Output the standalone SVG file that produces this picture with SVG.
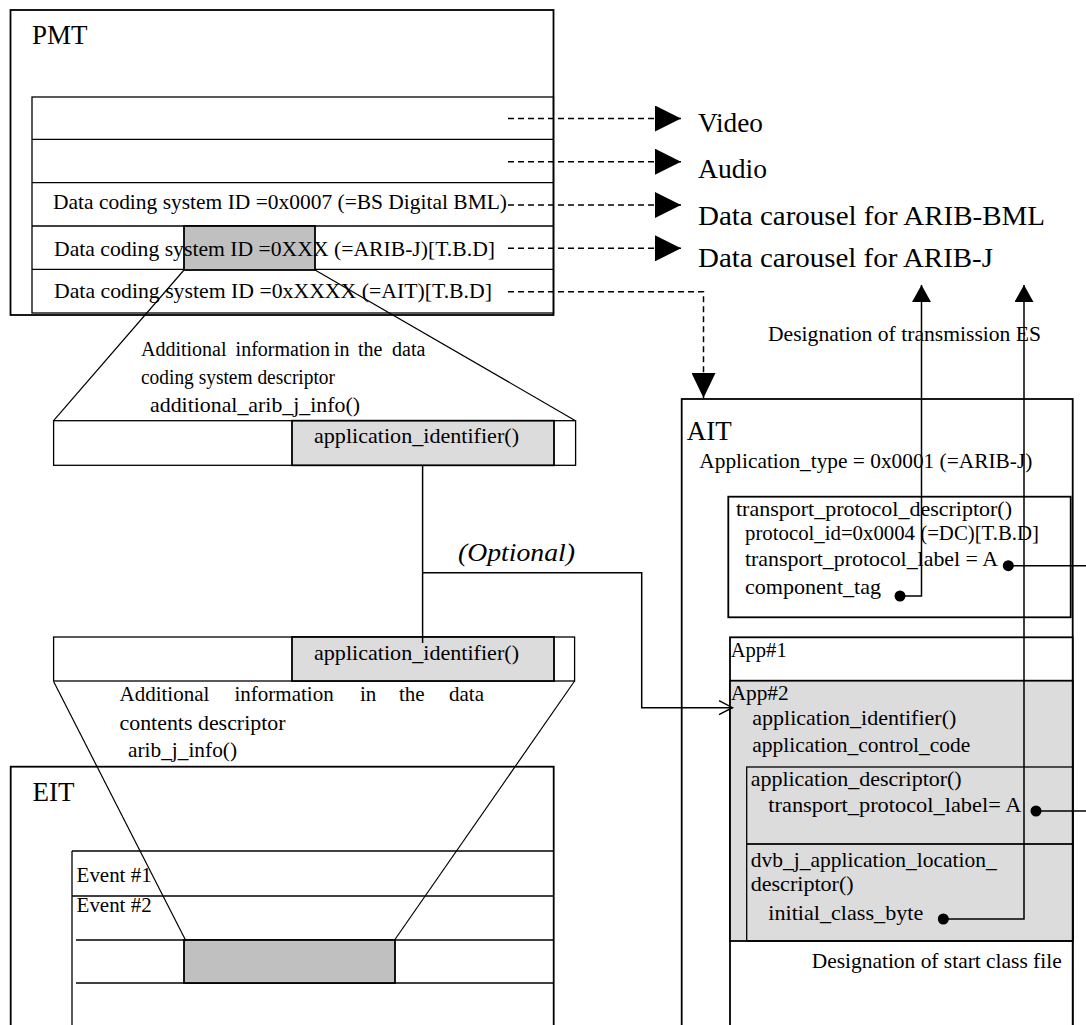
<svg xmlns="http://www.w3.org/2000/svg" width="1086" height="1025" viewBox="0 0 1086 1025">
<style>
.t{font-family:"Liberation Serif","Times New Roman",serif;font-size:21px;fill:#000}
.s20{font-size:20px}
.big{font-size:27px}
.it{font-style:italic;font-size:25px}
.box{fill:#fff;stroke:#000;stroke-width:1.8}
.in{fill:none;stroke:#000;stroke-width:1.3}
.gray{fill:#c0c0c0;stroke:#000;stroke-width:1.8}
.lgray{fill:#dcdcdc;stroke:#000;stroke-width:1.8}
.ln{fill:none;stroke:#000;stroke-width:1.5}
.thin{fill:none;stroke:#000;stroke-width:1.2}
.dash{fill:none;stroke:#000;stroke-width:1.5;stroke-dasharray:6 4}
.dot{fill:#000}
</style>
<defs>
<marker id="tri" markerUnits="userSpaceOnUse" markerWidth="26" markerHeight="26" viewBox="0 0 26 26" refX="26" refY="13" orient="auto"><path d="M0,0 L26,13 L0,26 z" fill="#000"/></marker>
<marker id="tri2" markerUnits="userSpaceOnUse" markerWidth="25" markerHeight="24" viewBox="0 0 25 24" refX="25" refY="12" orient="auto"><path d="M0,0 L25,12 L0,24 z" fill="#000"/></marker>
<marker id="triS" markerUnits="userSpaceOnUse" markerWidth="17" markerHeight="19" viewBox="0 0 17 19" refX="17" refY="9.5" orient="auto"><path d="M0,0 L17,9.5 L0,19 z" fill="#000"/></marker>
<marker id="open" markerUnits="userSpaceOnUse" markerWidth="16" markerHeight="16" viewBox="-1 -1 16 16" refX="13.5" refY="7" orient="auto"><path d="M0,0 L13.5,7 L0,14" fill="none" stroke="#000" stroke-width="1.5"/></marker>
</defs>

<g id="pmt">
<rect class="box" x="10.5" y="10" width="543" height="305"/>
<text class="t big" x="32" y="44">PMT</text>
<rect class="in" x="32" y="97" width="521.5" height="216"/>
<line class="in" x1="32" y1="139.3" x2="553.5" y2="139.3"/>
<line class="in" x1="32" y1="182.7" x2="553.5" y2="182.7"/>
<line class="in" x1="32" y1="226" x2="553.5" y2="226"/>
<line class="in" x1="32" y1="269.3" x2="553.5" y2="269.3"/>
<rect class="gray" x="184" y="226" width="131" height="44"/>
<text class="t" x="53" y="209" textLength="454" lengthAdjust="spacingAndGlyphs">Data coding system ID =0x0007 (=BS Digital BML)</text>
<text class="t" x="54" y="256" textLength="441" lengthAdjust="spacingAndGlyphs">Data coding system ID =0XXX (=ARIB-J)[T.B.D]</text>
<text class="t" x="54" y="298" textLength="438" lengthAdjust="spacingAndGlyphs">Data coding system ID =0xXXXX (=AIT)[T.B.D]</text>
</g>

<g id="labels-right">
<text class="t big" x="698" y="131.7" textLength="65" lengthAdjust="spacingAndGlyphs">Video</text>
<text class="t big" x="698" y="178" textLength="69" lengthAdjust="spacingAndGlyphs">Audio</text>
<text class="t big" x="698" y="225" textLength="347" lengthAdjust="spacingAndGlyphs">Data carousel for ARIB-BML</text>
<text class="t big" x="698" y="266.7" textLength="295" lengthAdjust="spacingAndGlyphs">Data carousel for ARIB-J</text>
<text class="t" x="768" y="340.7" textLength="273" lengthAdjust="spacingAndGlyphs">Designation of transmission ES</text>
</g>

<g id="dcs-descriptor">
<text class="t s20" y="355.7"><tspan x="141">Additional</tspan><tspan x="235.6">information</tspan><tspan x="334">in</tspan><tspan x="358">the</tspan><tspan x="392">data</tspan></text>
<text class="t s20" x="141" y="384" textLength="194" lengthAdjust="spacingAndGlyphs">coding system descriptor</text>
<text class="t" x="150" y="411.7" textLength="210" lengthAdjust="spacingAndGlyphs">additional_arib_j_info()</text>
<rect class="in" x="53.6" y="420.7" width="522" height="44.6"/>
<rect class="lgray" x="292" y="420.7" width="262" height="44.6"/>
<text class="t" x="314" y="443" textLength="205" lengthAdjust="spacingAndGlyphs">application_identifier()</text>
</g>

<g id="dc-descriptor">
<rect class="in" x="53.6" y="637" width="521" height="44"/>
<rect class="lgray" x="292" y="637" width="262" height="44"/>
<text class="t" x="314" y="660" textLength="205" lengthAdjust="spacingAndGlyphs">application_identifier()</text>
<text class="t" y="701"><tspan x="119.5">Additional</tspan><tspan x="234.5">information</tspan><tspan x="360">in</tspan><tspan x="399">the</tspan><tspan x="449">data</tspan></text>
<text class="t" x="119.5" y="730" textLength="166" lengthAdjust="spacingAndGlyphs">contents descriptor</text>
<text class="t" x="128" y="757" textLength="109" lengthAdjust="spacingAndGlyphs">arib_j_info()</text>
</g>

<g id="eit">
<rect class="box" x="10.7" y="766.7" width="543" height="300"/>
<text class="t big" x="32.5" y="801">EIT</text>
<line class="in" x1="72" y1="851" x2="72" y2="1030"/>
<line class="in" x1="72" y1="851" x2="553.7" y2="851"/>
<line class="in" x1="72" y1="896" x2="553.7" y2="896"/>
<line class="in" x1="76" y1="940" x2="553.7" y2="940"/>
<line class="in" x1="76" y1="983" x2="553.7" y2="983"/>
<rect class="gray" x="184" y="940" width="211" height="43" stroke-width="1.3"/>
<text class="t" x="76.6" y="881.7" textLength="75" lengthAdjust="spacingAndGlyphs">Event #1</text>
<text class="t" x="76.6" y="911.7" textLength="75" lengthAdjust="spacingAndGlyphs">Event #2</text>
</g>

<g id="ait">
<rect class="box" x="681.7" y="399" width="391" height="640"/>
<text class="t big" x="686.7" y="440" textLength="45" lengthAdjust="spacingAndGlyphs">AIT</text>
<text class="t" x="699.3" y="468.3" textLength="333" lengthAdjust="spacingAndGlyphs">Application_type = 0x0001 (=ARIB-J)</text>
<rect class="box" x="728.3" y="496.7" width="342.4" height="120.6" stroke-width="1.5"/>
<text class="t" x="736" y="515.7" textLength="276" lengthAdjust="spacingAndGlyphs">transport_protocol_descriptor()</text>
<text class="t" x="745" y="540" textLength="294" lengthAdjust="spacingAndGlyphs">protocol_id=0x0004 (=DC)[T.B.D]</text>
<text class="t" x="745" y="566" textLength="253" lengthAdjust="spacingAndGlyphs">transport_protocol_label = A</text>
<text class="t" x="745" y="594" textLength="136" lengthAdjust="spacingAndGlyphs">component_tag</text>
<rect class="box" x="730" y="637.3" width="342.7" height="400" stroke-width="1.5"/>
<rect class="lgray" x="730" y="680.7" width="342.7" height="260.3" fill="#dddddd"/>
<text class="t s20" x="730.7" y="656.7" textLength="56" lengthAdjust="spacingAndGlyphs">App#1</text>
<text class="t s20" x="730.7" y="700" textLength="58" lengthAdjust="spacingAndGlyphs">App#2</text>
<text class="t" x="752.3" y="725" textLength="204" lengthAdjust="spacingAndGlyphs">application_identifier()</text>
<text class="t" x="752.3" y="751.7" textLength="218" lengthAdjust="spacingAndGlyphs">application_control_code</text>
<rect class="in" x="746.7" y="767" width="326" height="77" stroke-width="1.6"/>
<text class="t" x="750.7" y="785.7" textLength="211" lengthAdjust="spacingAndGlyphs">application_descriptor()</text>
<text class="t" x="768.3" y="811.7" textLength="253" lengthAdjust="spacingAndGlyphs">transport_protocol_label= A</text>
<rect class="in" x="746.7" y="844" width="326" height="97" stroke-width="1.6"/>
<text class="t" x="750.7" y="866.7" textLength="246" lengthAdjust="spacingAndGlyphs">dvb_j_application_location_</text>
<text class="t" x="750.7" y="890.7" textLength="103" lengthAdjust="spacingAndGlyphs">descriptor()</text>
<text class="t" x="768.3" y="920" textLength="155" lengthAdjust="spacingAndGlyphs">initial_class_byte</text>
<text class="t" x="811.7" y="968.3" textLength="250" lengthAdjust="spacingAndGlyphs">Designation of start class file</text>
</g>

<g id="optional-label">
<text class="t it" x="458" y="560.5" textLength="117" lengthAdjust="spacingAndGlyphs">(Optional)</text>
</g>

<g id="connectors">
<line class="dash" x1="508" y1="118.5" x2="681" y2="118.5" marker-end="url(#tri)"/>
<line class="dash" x1="508" y1="161.7" x2="681" y2="161.7" marker-end="url(#tri)"/>
<line class="dash" x1="508" y1="205" x2="681" y2="205" marker-end="url(#tri)"/>
<line class="dash" x1="508" y1="248.3" x2="681" y2="248.3" marker-end="url(#tri)"/>
<path class="dash" d="M508,291.7 H703.5 V398" marker-end="url(#tri2)"/>
<line class="thin" x1="184" y1="270" x2="53.6" y2="420.7"/>
<line class="thin" x1="315" y1="270" x2="575.5" y2="420.7"/>
<line class="thin" x1="53.6" y1="681.5" x2="186" y2="941"/>
<line class="thin" x1="574.6" y1="681" x2="394.6" y2="940"/>
<line class="ln" x1="422.6" y1="465.3" x2="422.6" y2="643"/>
<path class="ln" d="M422.6,572.7 H641.7 V707.7 H732.5" marker-end="url(#open)"/>
<circle class="dot" cx="1008.3" cy="565.7" r="5.5"/>
<line class="ln" x1="1008.3" y1="565.7" x2="1086" y2="565.7"/>
<circle class="dot" cx="900" cy="596" r="5.5"/>
<path class="ln" d="M900,596 H921.5 V285" marker-end="url(#triS)"/>
<circle class="dot" cx="1036" cy="811" r="5.5"/>
<line class="ln" x1="1036" y1="811" x2="1086" y2="811"/>
<circle class="dot" cx="943.3" cy="919" r="5.5"/>
<path class="ln" d="M943.3,919 H1024 V285" marker-end="url(#triS)"/>
</g>
</svg>
